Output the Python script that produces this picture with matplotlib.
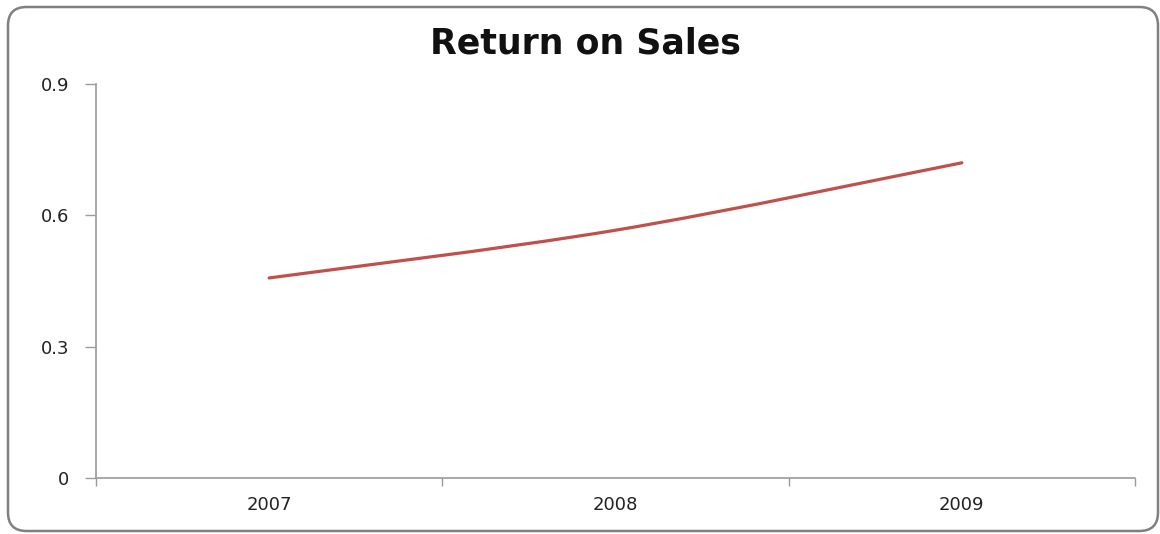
import numpy as np
import matplotlib.pyplot as plt
from matplotlib.patches import FancyBboxPatch, PathPatch
from matplotlib.path import Path

# Return on sales by year
years = ['2007', '2008', '2009']
ros = [0.457, 0.566, 0.72]

y_ticks = [0, 0.3, 0.6, 0.9]
y_labels = ['0', '0.3', '0.6', '0.9']

plt.rcParams['font.family'] = ['DejaVu Sans']

fig = plt.figure(figsize=(11.6, 5.34), dpi=100)

# rounded outer frame of the chart area
frame = FancyBboxPatch((8 / 1160, 3 / 534), 1150 / 1160, 524 / 534,
                       boxstyle='round,pad=0,rounding_size=0.016',
                       transform=fig.transFigure, facecolor='none',
                       edgecolor='#808080', linewidth=1.8, zorder=-1,
                       mutation_aspect=1160 / 534)
fig.patches.append(frame)

ax = fig.add_axes([96 / 1160, 1 - 478 / 534, 1039 / 1160, 394 / 534])
ax.set_facecolor('none')

x = np.arange(len(years))

# smooth line through the points (Catmull-Rom segments as cubic Beziers)
pts = np.column_stack([x, ros]).astype(float)
verts = [tuple(pts[0])]
codes = [Path.MOVETO]
for i in range(len(pts) - 1):
    p0 = pts[i - 1] if i > 0 else pts[i]
    p1 = pts[i]
    p2 = pts[i + 1]
    p3 = pts[i + 2] if i + 2 < len(pts) else pts[i + 1]
    c1 = p1 + (p2 - p0) / 6
    c2 = p2 - (p3 - p1) / 6
    verts += [tuple(c1), tuple(c2), tuple(p2)]
    codes += [Path.CURVE4] * 3
ax.add_patch(PathPatch(Path(verts, codes), facecolor='none',
                       edgecolor='#C0504D', linewidth=2.3,
                       capstyle='round', zorder=3))

ax.set_xlim(-0.5, len(years) - 0.5)
ax.set_ylim(0, 0.9)

ax.set_xticks(x)
ax.set_xticklabels(years)
ax.set_xticks(np.arange(len(years) + 1) - 0.5, minor=True)
ax.tick_params(axis='x', which='major', length=0, pad=13,
               labelsize=13, labelcolor='#222222')
ax.tick_params(axis='x', which='minor', length=6, color='#9a9a9a', width=1)

ax.set_yticks(y_ticks)
ax.set_yticklabels(y_labels)
ax.tick_params(axis='y', length=8, color='#9a9a9a', width=1, pad=11,
               labelsize=13, labelcolor='#222222')

for side in ['top', 'right']:
    ax.spines[side].set_visible(False)
for side in ['left', 'bottom']:
    ax.spines[side].set_color('#9a9a9a')
    ax.spines[side].set_linewidth(1.2)

fig.text(585 / 1160, 1 - 43 / 534, 'Return on Sales', ha='center',
         va='center', fontsize=25, fontweight='bold', color='#111111')

fig.savefig('out.png', dpi=100)
